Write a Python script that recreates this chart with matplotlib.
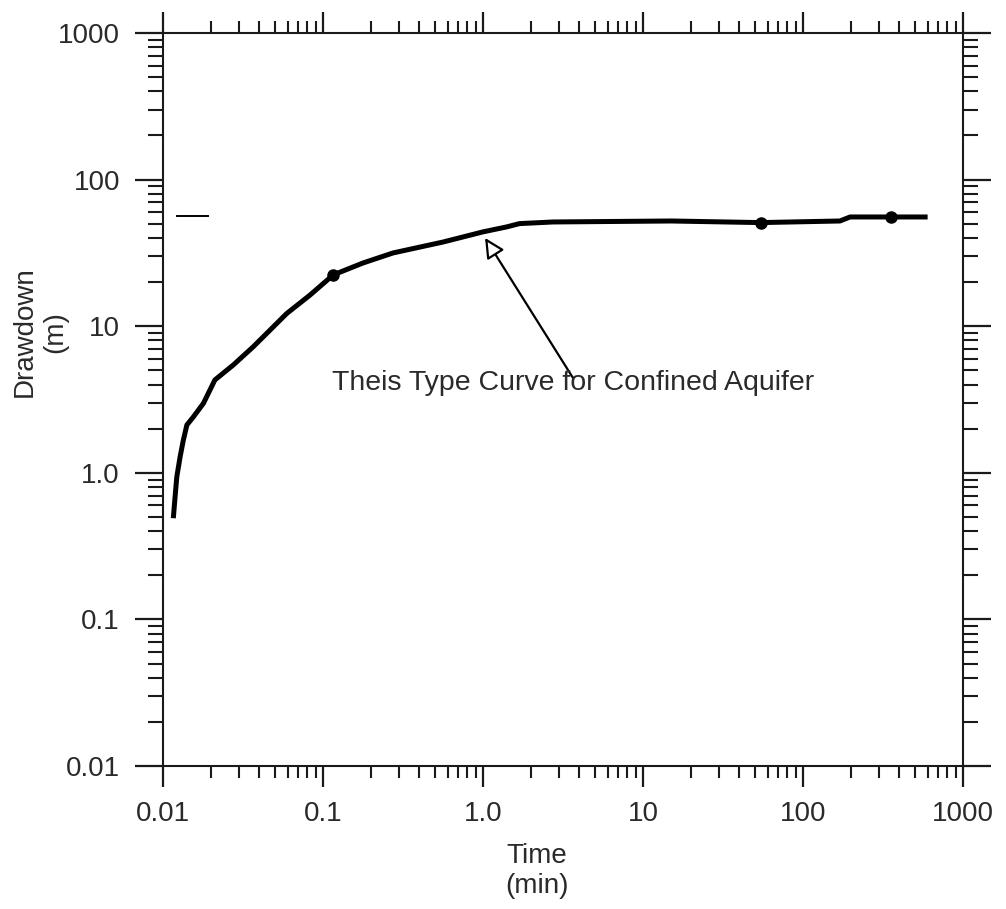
import matplotlib
matplotlib.use("Agg")
import matplotlib.pyplot as plt
from matplotlib.ticker import LogLocator, NullFormatter

# Pumping test record: time since pumping started vs. drawdown
time_min = [0.0116, 0.0119, 0.0122, 0.0128, 0.0134, 0.0141, 0.0155, 0.0179,
            0.0211, 0.0275, 0.0367, 0.0593, 0.0829, 0.116, 0.178, 0.274,
            0.562, 1.0, 1.41, 1.69, 2.74, 15.0, 54.3, 170.0, 197.0, 355.0, 601.0]
drawdown_m = [0.49, 0.687, 0.94, 1.29, 1.67, 2.12, 2.41, 2.98,
              4.30, 5.44, 7.25, 12.2, 16.3, 22.4, 27.0, 31.6,
              37.5, 44.0, 47.6, 50.1, 51.4, 52.2, 50.9, 52.2, 55.6, 55.6, 55.6]

# Highlighted observations on the curve
obs_time = [0.116, 54.3, 355.0]
obs_drawdown = [22.4, 50.9, 55.6]

# Short reference dash near the left edge
dash_time = [0.01223, 0.01911]
dash_drawdown = [56.8, 56.8]

x_ticks = [0.01, 0.1, 1.0, 10, 100, 1000]
x_tick_labels = ["0.01", "0.1", "1.0", "10", "100", "1000"]
y_ticks = [0.01, 0.1, 1.0, 10, 100, 1000]
y_tick_labels = ["0.01", "0.1", "1.0", "10", "100", "1000"]

annotation_text = "Theis Type Curve for Confined Aquifer"
arrow_tip = (1.03, 40.0)
arrow_tail = (3.65, 4.44)
text_pos = (3.65, 4.10)

plt.rcParams["font.family"] = ["Liberation Sans", "DejaVu Sans"]
ink = "#1a1a1a"
text_ink = "#2a2a2a"

fig = plt.figure(figsize=(10.06, 9.09), dpi=100)
ax = fig.add_axes([163 / 1006, 1 - 766 / 909, 800 / 1006, 733 / 909])

ax.set_xscale("log")
ax.set_yscale("log")
ax.set_xlim(0.01, 1000)
ax.set_ylim(0.01, 1000)

ax.plot(time_min, drawdown_m, color="black", lw=3.6, solid_capstyle="butt",
        solid_joinstyle="round")
ax.plot(obs_time, obs_drawdown, "o", color="black", markersize=8)
ax.plot(dash_time, dash_drawdown, color="black", lw=1.4)

ax.annotate("", xy=arrow_tip, xytext=arrow_tail,
            arrowprops=dict(arrowstyle="-|>", fc="white", ec="black",
                            lw=1.6, mutation_scale=30, shrinkA=0, shrinkB=0))
ax.text(text_pos[0], text_pos[1], annotation_text, ha="center", va="center",
        fontsize=20.5, color=text_ink)

ax.set_xticks(x_ticks)
ax.set_xticklabels(x_tick_labels)
ax.set_yticks(y_ticks)
ax.set_yticklabels(y_tick_labels)
ax.xaxis.set_minor_locator(LogLocator(base=10, subs=range(2, 10)))
ax.yaxis.set_minor_locator(LogLocator(base=10, subs=range(2, 10)))
ax.xaxis.set_minor_formatter(NullFormatter())
ax.yaxis.set_minor_formatter(NullFormatter())

for side in ax.spines.values():
    side.set_linewidth(1.5)
    side.set_color(ink)

ax.tick_params(axis="x", which="major", direction="out", length=15, width=1.6,
               top=True, bottom=True, labelsize=20, pad=10,
               color=ink, labelcolor=text_ink)
ax.tick_params(axis="x", which="minor", direction="out", length=8.5, width=1.5,
               top=True, bottom=True, color=ink)
ax.tick_params(axis="y", which="major", direction="out", length=20, width=1.6,
               left=True, right=True, labelsize=20, pad=11,
               color=ink, labelcolor=text_ink)
ax.tick_params(axis="y", which="minor", direction="out", length=10.5, width=1.5,
               left=True, right=True, color=ink)

fig.text(40 / 1006, 1 - 332 / 909, "Drawdown\n(m)", rotation=90,
         ha="center", va="center", multialignment="center",
         fontsize=20, color=text_ink)
fig.text(537 / 1006, 1 - 871 / 909, "Time\n(min)", ha="center", va="center",
         multialignment="center", fontsize=20, color=text_ink)

fig.savefig("out.png", dpi=100)
